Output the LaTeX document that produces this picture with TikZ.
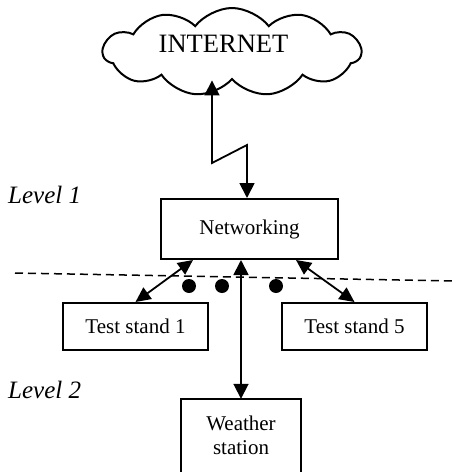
\documentclass[tikz,border=0pt]{standalone}
\usepackage{fontspec}
\setmainfont{Liberation Serif}
\usetikzlibrary{arrows.meta,shapes.symbols}

\tikzset{
  boxline/.style={line width=2pt},
  boxnode/.style={draw, boxline, rectangle, inner sep=0pt, align=center,
    font=\fontsize{21}{24}\selectfont},
  opennode/.style={rectangle, inner sep=0pt, align=center,
    font=\fontsize{21}{24}\selectfont},
  netcloud/.style={draw, line width=2pt, cloud, cloud puffs=11, cloud puff arc=105,
    cloud ignores aspect, minimum width=258pt, minimum height=88pt, inner sep=0pt},
  biglabel/.style={font=\fontsize{26.5}{30}\selectfont, inner sep=0pt},
  levellabel/.style={font=\fontsize{25}{28}\selectfont\itshape, anchor=base west, inner sep=0pt},
  link/.style={line width=1.8pt, {Triangle[length=15pt,width=15pt]}-{Triangle[length=15pt,width=15pt]}},
  sidelink/.style={line width=1.8pt, {Triangle[length=15pt,width=14pt]}-{Triangle[length=15pt,width=14pt]}},
  border/.style={line width=1.5pt, dash pattern=on 8pt off 5pt},
  dotnode/.style={circle, fill=black, minimum size=14pt, inner sep=0pt}
}

\begin{document}
\begin{tikzpicture}[x=1pt, y=-1pt]
  \useasboundingbox (0,0) rectangle (454,472);

  % the outside world
  \node[netcloud] (inet) at (232,52) {};
  \node[biglabel] (inetlabel) at (223.5,44) {INTERNET};

  % level 1
  \node[levellabel] (lvl1) at (8,203) {Level 1};
  \node[boxnode, minimum width=177pt, minimum height=60pt] (net) at (249.5,229) {Networking};

  % radio link between the cloud and the networking unit
  \coordinate (z1) at (212,163);
  \coordinate (z2) at (247,145);
  \draw[link] (z1 |- inet.south) -- (z1) -- (z2) -- (z2 |- net.north);

  % boundary between the levels
  \coordinate (bl) at (15,273);
  \coordinate (br) at (454,281);
  \draw[border] (bl) -- (br);

  % level 2
  \node[levellabel] (lvl2) at (8,398) {Level 2};
  \node[boxnode, minimum width=145pt, minimum height=47pt] (ts1) at (135.5,326.5) {Test stand 1};
  \node[boxnode, minimum width=145pt, minimum height=47pt] (ts5) at (354.5,326.5) {Test stand 5};
  % the weather station box runs on past the lower edge
  \node[opennode, minimum width=120pt, minimum height=72pt] (ws) at (241,435) {Weather\\station};
  \draw[boxline] ([yshift=-12pt]ws.south west) -- (ws.north west) -- (ws.north east)
    -- ([yshift=-12pt]ws.south east);

  % further test stands
  \node[dotnode] (d1) at (189,286) {};
  \node[dotnode] (d2) at (222,286) {};
  \node[dotnode] (d3) at (276,286) {};

  % links to the networking unit
  \draw[sidelink] ([xshift=-56.5pt]net.south) -- (ts1.north);
  \draw[link] (ws.north |- net.south) -- (ws.north);
  \draw[sidelink] ([xshift=46.5pt]net.south) -- (ts5.north);
\end{tikzpicture}
\end{document}
